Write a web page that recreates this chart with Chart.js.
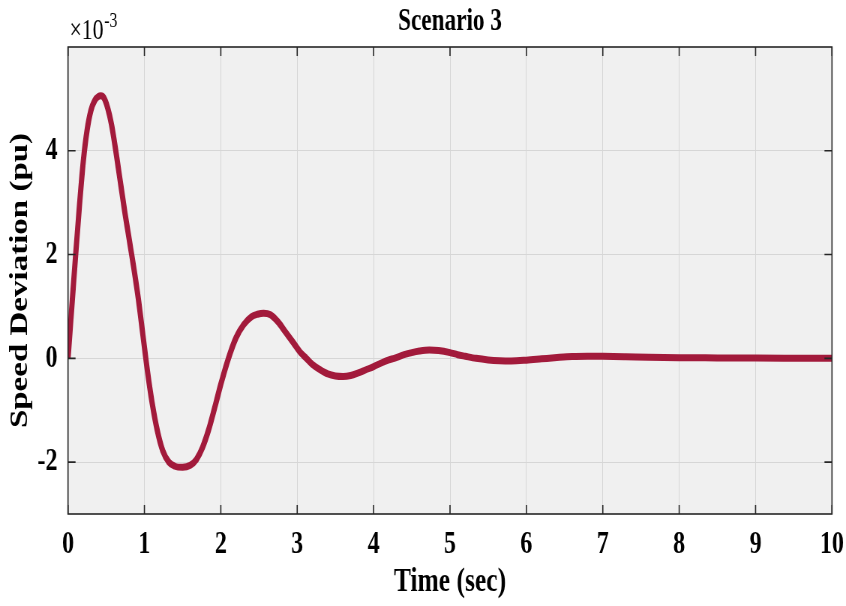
<!DOCTYPE html>
<html><head><meta charset="utf-8">
<script src="https://cdn.jsdelivr.net/npm/chart.js@4.4.1/dist/chart.umd.min.js"></script>
<style>
html,body{margin:0;padding:0;background:#fff;overflow:hidden;width:846px;height:606px;}
#wrap{width:1128px;height:606px;transform:scaleX(0.75);transform-origin:0 0;}
</style></head><body>
<div id="wrap"><canvas id="c" width="1128" height="606"></canvas></div>
<script>
const timeSec = [0, 0.05, 0.10, 0.15, 0.20, 0.25, 0.30, 0.35, 0.40, 0.43, 0.47, 0.52, 0.57, 0.62, 0.68, 0.74, 0.80, 0.86, 0.92, 0.98, 1.04, 1.10, 1.17, 1.24, 1.32, 1.40, 1.50, 1.60, 1.68, 1.76, 1.84, 1.92, 2.00, 2.10, 2.20, 2.30, 2.40, 2.48, 2.56, 2.65, 2.75, 2.85, 2.95, 3.05, 3.12, 3.20, 3.30, 3.40, 3.50, 3.60, 3.70, 3.80, 3.90, 4.00, 4.10, 4.20, 4.27, 4.40, 4.50, 4.60, 4.73, 4.85, 5.00, 5.10, 5.20, 5.34, 5.50, 5.65, 5.80, 6.00, 6.20, 6.40, 6.60, 6.80, 7.00, 7.30, 7.60, 8.00, 8.50, 9.00, 9.50, 10.00];
// speed deviation in units of 1e-3 pu
const speedDev = [0, 1.0, 2.0, 2.95, 3.8, 4.4, 4.78, 4.97, 5.05, 5.06, 5.02, 4.82, 4.5, 4.05, 3.45, 2.85, 2.3, 1.75, 1.15, 0.45, -0.25, -0.85, -1.4, -1.78, -2.0, -2.08, -2.1, -2.06, -1.95, -1.72, -1.38, -0.95, -0.5, 0.0, 0.4, 0.65, 0.8, 0.85, 0.87, 0.84, 0.7, 0.5, 0.3, 0.1, 0.0, -0.12, -0.22, -0.3, -0.34, -0.35, -0.33, -0.28, -0.22, -0.16, -0.09, -0.03, 0.0, 0.07, 0.11, 0.14, 0.16, 0.15, 0.11, 0.07, 0.04, 0.0, -0.03, -0.045, -0.05, -0.035, -0.01, 0.015, 0.035, 0.04, 0.038, 0.03, 0.02, 0.012, 0.008, 0.005, 0.003, 0.002];
const xTicks = [0, 1, 2, 3, 4, 5, 6, 7, 8, 9, 10];
const yTicks = [-2, 0, 2, 4];
const xRange = [0, 10];
const yRange = [-3, 6];
const chartTitle = 'Scenario 3';
const xTitle = 'Time (sec)';
const yTitle = 'Speed Deviation (pu)';
const expBase = '\u00d710';
const expPow = '-3';

const SERIF = "'Liberation Serif', 'Times New Roman', serif";

const bgPlugin = {
  id: 'bg',
  beforeDraw(chart) {
    const {ctx, chartArea: a} = chart;
    ctx.save();
    ctx.fillStyle = '#ffffff';
    ctx.fillRect(0, 0, chart.width, chart.height);
    ctx.fillStyle = '#f0f0f0';
    ctx.fillRect(a.left, a.top, a.right - a.left, a.bottom - a.top);
    ctx.restore();
  }
};

const framePlugin = {
  id: 'frame',
  afterDatasetsDraw(chart) {
    const {ctx, chartArea: a, scales} = chart;
    ctx.save();
    ctx.strokeStyle = '#262626';
    ctx.lineWidth = 1.6;
    ctx.strokeRect(a.left, a.top, a.right - a.left, a.bottom - a.top);
    ctx.beginPath();
    scales.x.ticks.forEach(t => {
      const px = scales.x.getPixelForValue(t.value);
      ctx.moveTo(px, a.bottom); ctx.lineTo(px, a.bottom - 9);
      ctx.moveTo(px, a.top); ctx.lineTo(px, a.top + 9);
    });
    scales.y.ticks.forEach(t => {
      const py = scales.y.getPixelForValue(t.value);
      ctx.moveTo(a.left, py); ctx.lineTo(a.left + 10, py);
      ctx.moveTo(a.right, py); ctx.lineTo(a.right - 10, py);
    });
    ctx.stroke();
    // exponent label
    ctx.fillStyle = '#000';
    ctx.textBaseline = 'alphabetic';
    ctx.textAlign = 'left';
    ctx.font = '29px ' + SERIF;
    ctx.fillText(expBase, a.left + 2, 39);
    const w = ctx.measureText(expBase).width;
    ctx.font = '21px ' + SERIF;
    ctx.fillText(expPow, a.left + 2 + w + 1, 27);
    ctx.restore();
  }
};

new Chart(document.getElementById('c').getContext('2d'), {
  type: 'line',
  data: {
    datasets: [{
      data: timeSec.map((t, i) => ({x: t, y: speedDev[i]})),
      borderColor: '#a21a3b',
      borderWidth: 7,
      pointRadius: 0,
      fill: false,
      cubicInterpolationMode: 'monotone'
    }]
  },
  options: {
    responsive: false,
    animation: false,
    devicePixelRatio: 1,
    layout: {padding: {left: 0, right: 18.7, top: 0, bottom: 0}},
    plugins: {
      legend: {display: false},
      tooltip: {enabled: false},
      title: {
        display: true, text: chartTitle, fullSize: false, color: '#000',
        font: {family: SERIF, size: 31, weight: 'bold'},
        padding: {top: 3, bottom: 6.8}
      }
    },
    scales: {
      x: {
        type: 'linear', min: xRange[0], max: xRange[1],
        afterBuildTicks: s => { s.ticks = xTicks.map(v => ({value: v})); },
        afterFit: s => { s.height = 92; s.paddingLeft = 0; s.paddingRight = 0; },
        grid: {color: '#d6d6d6', lineWidth: 1, drawTicks: false},
        border: {display: false},
        ticks: {color: '#000', padding: 12, maxRotation: 0, autoSkip: false,
          font: {family: SERIF, size: 32, weight: 'bold'}},
        title: {display: true, text: xTitle, color: '#000',
          font: {family: SERIF, size: 34, weight: 'bold'}, padding: {top: 0, bottom: 3}}
      },
      y: {
        min: yRange[0], max: yRange[1],
        afterBuildTicks: s => { s.ticks = yTicks.map(v => ({value: v})); },
        afterFit: s => { s.width = 90.7; s.paddingTop = 0; s.paddingBottom = 0; },
        grid: {color: '#d6d6d6', lineWidth: 1, drawTicks: false},
        border: {display: false},
        ticks: {color: '#000', padding: 14, autoSkip: false,
          font: {family: SERIF, size: 32, weight: 'bold'}},
        title: {display: true, text: yTitle, color: '#000',
          font: {family: SERIF, size: 33, weight: 'bold'}, padding: {top: 8, bottom: 0}}
      }
    }
  },
  plugins: [bgPlugin, framePlugin]
});
</script>
</body></html>
